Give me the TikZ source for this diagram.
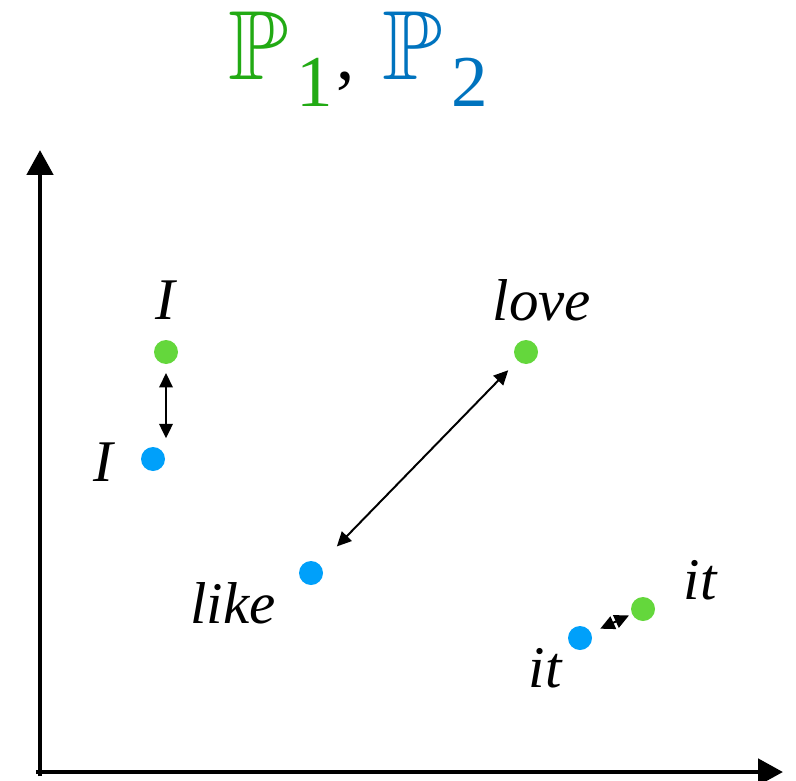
\documentclass[tikz,border=0pt]{standalone}
\usepackage{amssymb}
\usepackage{graphicx}
\usepackage{fontspec}
\setmainfont{Liberation Serif}
\usepackage{tikz}
\usetikzlibrary{arrows.meta, positioning}

\definecolor{titlegreen}{RGB}{34,170,20}
\definecolor{titleblue}{RGB}{0,115,190}
\definecolor{dotgreen}{RGB}{100,215,60}
\definecolor{dotblue}{RGB}{0,160,250}

\newcommand{\bigP}[2]{\textcolor{#1}{\scalebox{7}{\normalsize$\mathbb{P}$}\hspace{6pt}\raisebox{-19pt}{#2}}}

\begin{document}
\begin{tikzpicture}[
    word/.style={font=\fontsize{42}{50}\selectfont\itshape, inner sep=0pt},
    gdot/.style={circle, fill=dotgreen, inner sep=0pt, minimum size=0.6cm},
    bdot/.style={circle, fill=dotblue, inner sep=0pt, minimum size=0.6cm},
    axis/.style={-{Triangle[length=0.625cm, width=0.65cm]}, line width=3.5pt},
    pair/.style={{Triangle[length=0.36cm, width=0.34cm]}-{Triangle[length=0.36cm, width=0.34cm]}, line width=1.4pt}
]
    \useasboundingbox (-1,-0.2) rectangle (18.9,19.3);

    % Title
    \node[inner sep=0pt, anchor=base, font=\fontsize{52}{62}\selectfont] (title) at (7.95,17.3)
        {\bigP{titlegreen}{1}\hspace{2pt},\hspace{20pt}\bigP{titleblue}{2}};

    % Axes
    \draw[axis] (0,-0.1) -- (0,15.55);
    \draw[axis] (-0.1,0) -- (18.575,0);

    % Words of P1
    \node[gdot] (gI) at (3.15,10.5) {};
    \node[gdot] (glove) at (12.15,10.5) {};
    \node[gdot] (git) at (15.075,4.075) {};

    % Words of P2
    \node[bdot] (bI) at (2.825,7.825) {};
    \node[bdot] (blike) at (6.775,4.975) {};
    \node[bdot] (bit) at (13.5,3.35) {};

    % Labels
    \node[word] (lgI) at (3.125,11.8) {I};
    \node[word] (lbI) at (1.575,7.75) {I};
    \node[word] (lglove) at (12.55,11.8) {love};
    \node[word] (lblike) at (4.825,4.225) {like};
    \node[word] (lgit) at (16.5,4.8) {it};
    \node[word] (lbit) at (12.625,2.6) {it};

    % Distances
    \draw[pair, shorten <=0.22cm, shorten >=0.52cm] (gI) -- (gI |- bI);
    \draw[pair, shorten <=0.33cm, shorten >=0.62cm] (glove) -- (blike);
    \draw[pair, shorten <=0.08cm, shorten >=0.25cm] (git) -- (bit);
\end{tikzpicture}
\end{document}
